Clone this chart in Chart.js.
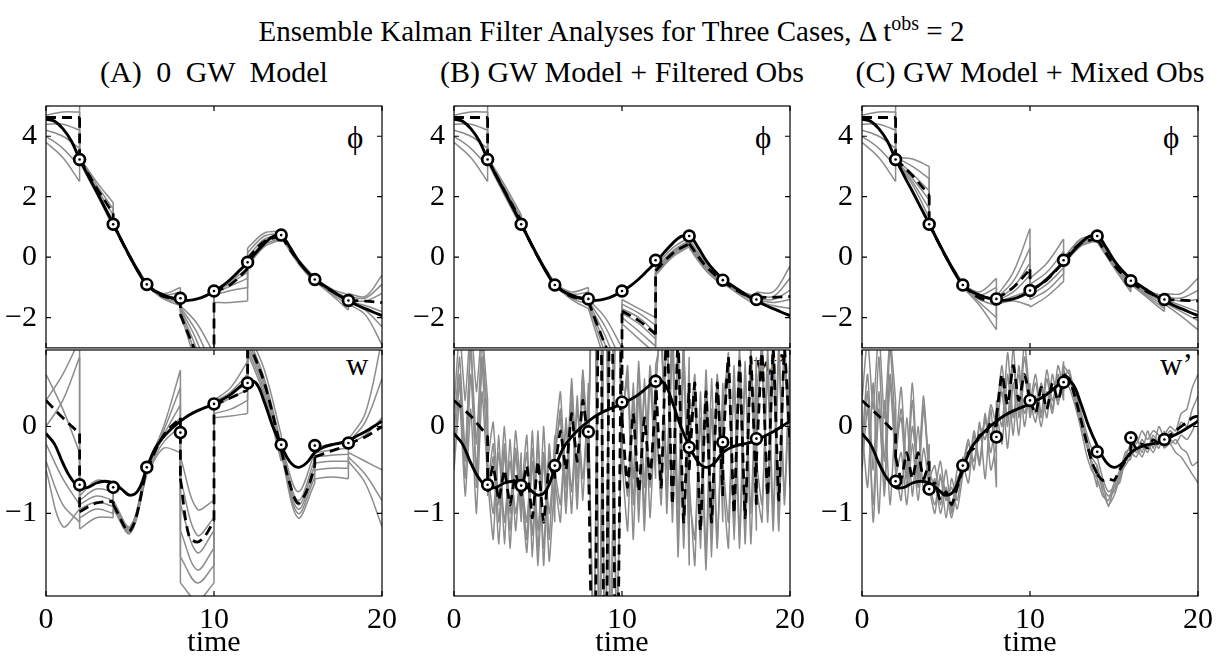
<!DOCTYPE html>
<html>
<head>
<meta charset="utf-8">
<script src="https://cdn.jsdelivr.net/npm/chart.js@4.4.1/dist/chart.umd.min.js"></script>
<style>
body { margin: 0; background: #fff; }
#page { position: relative; width: 1223px; height: 661px; overflow: hidden; font-family: 'Liberation Serif', 'Times New Roman', serif; color: #000; }
.txt { position: absolute; white-space: nowrap; line-height: 1; }
.sub { width: 420px; text-align: center; font-size: 30px; top: 57px; }
.lab { font-size: 31px; }
canvas { position: absolute; }
</style>
</head>
<body>
<div id="page">
  <div class="txt" style="left:0;width:1223px;text-align:center;top:13px;font-size:29px">Ensemble Kalman Filter Analyses for Three Cases, &Delta; t<sup style="font-size:20px">obs</sup> = 2</div>
  <div class="txt sub" style="left:4px;word-spacing:7px">(A) 0 GW Model</div>
  <div class="txt sub" style="left:412px">(B) GW Model + Filtered Obs</div>
  <div class="txt sub" style="left:820px">(C) GW Model + Mixed Obs</div>

  <div class="txt lab" style="left:347px;top:122px">&#981;</div>
  <div class="txt lab" style="left:755px;top:122px">&#981;</div>
  <div class="txt lab" style="left:1163px;top:122px">&#981;</div>
  <div class="txt lab" style="left:346px;top:349px">w</div>
  <div class="txt lab" style="left:754px;top:349px">w&#8217;</div>
  <div class="txt lab" style="left:1160px;top:349px">w&#8217;</div>

  <canvas id="topA" width="400" height="260" style="left:0;top:96px"></canvas>
  <canvas id="botA" width="400" height="321" style="left:0;top:340px"></canvas>
  <canvas id="topB" width="400" height="260" style="left:408px;top:96px"></canvas>
  <canvas id="botB" width="400" height="321" style="left:408px;top:340px"></canvas>
  <canvas id="topC" width="400" height="260" style="left:816px;top:96px"></canvas>
  <canvas id="botC" width="400" height="321" style="left:816px;top:340px"></canvas>
</div>
<script>
// axes
const xTicks = [0, 10, 20];
const phiTicks = [-2, 0, 2, 4];
const wTicks = [-1, 0];
const phiRange = [-3, 5];
const wRange = [-1.95, 0.88];

// observation times and values
const obsT = [2, 4, 6, 8, 10, 12, 14, 16, 18];
const obsPhiA = [3.23, 1.09, -0.90, -1.36, -1.12, -0.17, 0.73, -0.74, -1.43];
const obsPhiB = [3.23, 1.09, -0.92, -1.38, -1.12, -0.10, 0.70, -0.76, -1.40];
const obsPhiC = [3.23, 1.09, -0.92, -1.38, -1.10, -0.10, 0.70, -0.78, -1.40];
const obsWA = [-0.67, -0.70, -0.47, -0.07, 0.26, 0.50, -0.21, -0.22, -0.19];
const obsWB = [-0.67, -0.68, -0.45, -0.06, 0.28, 0.52, -0.24, -0.18, -0.14];
const obsWC = [-0.63, -0.72, -0.45, -0.12, 0.30, 0.51, -0.29, -0.13, -0.15];

// truth, every 0.5 time units from 0 to 20
const truthStep = 0.5;
const truthPhi = [4.56, 4.50, 4.25, 3.85, 3.25, 2.70, 2.18, 1.64, 1.10, 0.55, 0.02, -0.50, -0.92, -1.13, -1.25, -1.35,
  -1.42, -1.43, -1.38, -1.28, -1.13, -0.95, -0.72, -0.45, -0.17, 0.15, 0.45, 0.68, 0.72, 0.35, -0.10, -0.45,
  -0.72, -0.92, -1.10, -1.28, -1.43, -1.58, -1.70, -1.82, -1.93];
const truthW = [-0.08, -0.20, -0.42, -0.60, -0.70, -0.70, -0.65, -0.63, -0.65, -0.72, -0.79, -0.73, -0.48, -0.25,
  -0.12, -0.02, 0.06, 0.13, 0.18, 0.22, 0.26, 0.31, 0.37, 0.45, 0.52, 0.50, 0.28, 0.00, -0.22, -0.40, -0.47,
  -0.42, -0.30, -0.24, -0.21, -0.19, -0.16, -0.11, -0.06, 0.00, 0.06];

// ensemble mean and members: one value list per 2-unit window between observations
const obsStep = 2;
const phiMeanA = [[4.62,4.62,4.62],[3.25,2.3,1.45],[1.1,0.0,-0.93],[-0.92,-1.3,-1.35],[-1.9,-3.3,-5],
  [-1.15,-0.9,-0.38],[-0.05,0.52,0.7],[0.7,-0.12,-0.75],[-0.76,-1.12,-1.45],[-1.42,-1.45,-1.5]];
const phiEnsA = [
  [[5.0,5.1,5.3],[3.3,2.5,1.8],[1.15,0.05,-0.85],[-0.9,-1.2,-1.0],[-1.6,-2.2,-3.2],[-1.15,-0.75,-0.2],[0.3,0.8,0.85],[0.72,-0.1,-0.7],[-0.72,-1.05,-1.25],[-1.2,-1.3,-0.6]],
  [[4.7,4.8,4.8],[3.3,2.4,1.6],[1.1,0.0,-0.95],[-0.9,-1.25,-1.15],[-1.65,-2.5,-3.8],[-1.15,-0.8,-0.35],[0.15,0.7,0.78],[0.7,-0.15,-0.75],[-0.74,-1.1,-1.35],[-1.3,-1.35,-0.9]],
  [[4.4,4.4,4.2],[3.25,2.3,1.4],[1.05,-0.05,-1.0],[-0.92,-1.3,-1.3],[-1.7,-2.8,-4.5],[-1.2,-0.85,-0.5],[0.0,0.6,0.72],[0.68,-0.15,-0.8],[-0.75,-1.12,-1.45],[-1.4,-1.45,-1.2]],
  [[4.2,4.0,3.6],[3.2,2.2,1.2],[1.1,0.0,-0.9],[-0.92,-1.33,-1.4],[-1.75,-3.1,-5],[-1.2,-0.95,-0.7],[-0.1,0.5,0.68],[0.7,-0.1,-0.72],[-0.76,-1.15,-1.5],[-1.45,-1.6,-1.8]],
  [[4.0,3.6,3.0],[3.2,2.15,1.1],[1.12,0.02,-0.88],[-0.95,-1.35,-1.5],[-1.8,-3.4,-5.5],[-1.25,-1.1,-1.0],[-0.2,0.42,0.62],[0.74,-0.05,-0.68],[-0.78,-1.2,-1.6],[-1.5,-1.75,-2.3]],
  [[3.8,3.3,2.5],[3.15,2.1,1.0],[1.08,-0.02,-0.98],[-0.95,-1.38,-1.6],[-1.85,-3.7,-6],[-1.5,-1.5,-1.45],[-0.3,0.35,0.58],[0.66,-0.2,-0.85],[-0.8,-1.25,-1.75],[-1.55,-1.9,-2.9]]
];
const wMeanA = [[0.3,0.1,-0.08],[-0.98,-0.88,-0.86],[-0.9,-1.2,-0.48],[-0.5,-0.1,0.1],[-0.6,-1.25,-1.33,-1.25,-1.08],
  [0.25,0.33,0.42],[1.0,0.5,-0.27],[-0.27,-0.65,-0.88,-0.75,-0.45],[-0.35,-0.28,-0.22],[-0.2,-0.12,0.0]];
const wEnsA = [
  [[0.6,0.2,-0.3],[-0.8,-0.62,-0.65],[-0.85,-1.15,-0.45],[-0.45,0.0,0.65],[-0.35,-0.95,-0.85],[0.3,0.45,0.75],[1.1,0.65,-0.1],[-0.2,-0.75,-0.3],[-0.25,-0.2,-0.18],[-0.15,0.15,1.0]],
  [[0.3,0.6,1.0],[-0.85,-0.72,-0.75],[-0.88,-1.18,-0.5],[-0.47,-0.05,0.45],[-0.6,-1.25,-1.05],[0.28,0.4,0.6],[1.05,0.55,-0.2],[-0.22,-0.85,-0.38],[-0.3,-0.27,-0.25],[-0.18,0.05,0.55]],
  [[0.0,0.3,0.8],[-0.9,-0.8,-0.85],[-0.9,-1.2,-0.48],[-0.5,-0.1,0.25],[-0.9,-1.45,-1.2],[0.26,0.37,0.5],[1.0,0.5,-0.25],[-0.25,-0.9,-0.45],[-0.35,-0.33,-0.32],[-0.2,-0.1,0.1]],
  [[-0.2,-0.6,-0.9],[-0.95,-0.87,-0.92],[-0.92,-1.22,-0.52],[-0.5,-0.12,0.1],[-1.2,-1.65,-1.4],[0.22,0.33,0.42],[0.95,0.45,-0.3],[-0.28,-0.95,-0.52],[-0.42,-0.4,-0.4],[-0.3,-0.4,-0.5]],
  [[-0.4,-0.9,-1.1],[-1.05,-0.95,-1.0],[-0.95,-1.23,-0.55],[-0.52,-0.18,0.0],[-1.5,-1.8,-1.6],[0.15,0.2,0.3],[0.9,0.4,-0.35],[-0.3,-1.0,-0.58],[-0.5,-0.48,-0.48],[-0.35,-0.55,-0.85]],
  [[-0.5,-1.15,-0.95],[-1.18,-1.05,-1.05],[-0.87,-1.16,-0.42],[-0.55,-0.25,-0.3],[-1.8,-2.0,-1.8],[0.1,0.12,0.15],[0.85,0.35,-0.4],[-0.32,-1.05,-0.65],[-0.6,-0.58,-0.6],[-0.4,-0.65,-1.15]]
];

const phiMeanB = [[4.62,4.62,4.62],[3.25,2.2,1.2],[1.1,0.0,-0.93],[-0.92,-1.3,-1.4],[-1.45,-2.2,-2.9,-3.6,-4.3],
  [-1.78,-2.1,-2.55],[-0.45,0.12,0.45],[0.45,-0.3,-0.8],[-0.8,-1.15,-1.4],[-1.33,-1.33,-1.3]];
const phiEnsB = [
  [[5.0,5.1,5.3],[3.3,2.4,1.4],[1.15,0.05,-0.85],[-0.9,-1.15,-1.0],[-1.4,-2.0,-3.0],[-1.4,-1.7,-2.0],[-0.3,0.3,0.65],[0.6,-0.2,-0.7],[-0.72,-1.1,-1.3],[-1.15,-1.15,-0.3]],
  [[4.7,4.8,4.8],[3.3,2.3,1.3],[1.1,0.0,-0.95],[-0.9,-1.22,-1.15],[-1.45,-2.3,-3.5],[-1.55,-1.85,-2.25],[-0.4,0.2,0.55],[0.5,-0.25,-0.75],[-0.75,-1.12,-1.35],[-1.25,-1.3,-0.7]],
  [[4.4,4.4,4.2],[3.25,2.25,1.2],[1.05,-0.05,-1.0],[-0.92,-1.28,-1.3],[-1.5,-2.6,-4.0],[-1.7,-2.0,-2.5],[-0.45,0.15,0.5],[0.45,-0.3,-0.8],[-0.78,-1.15,-1.4],[-1.35,-1.4,-1.1]],
  [[4.2,4.0,3.6],[3.2,2.15,1.1],[1.1,0.0,-0.9],[-0.92,-1.33,-1.42],[-1.55,-2.9,-4.5],[-1.85,-2.2,-2.7],[-0.5,0.1,0.45],[0.4,-0.35,-0.85],[-0.8,-1.18,-1.45],[-1.4,-1.5,-1.4]],
  [[4.0,3.6,3.0],[3.2,2.1,1.05],[1.12,0.02,-0.88],[-0.95,-1.36,-1.55],[-1.6,-3.2,-5.0],[-2.0,-2.45,-2.95],[-0.55,0.05,0.4],[0.35,-0.4,-0.9],[-0.83,-1.2,-1.5],[-1.45,-1.6,-1.7]],
  [[3.8,3.3,2.5],[3.15,2.05,1.0],[1.08,-0.02,-0.98],[-0.95,-1.4,-1.7],[-1.7,-3.5,-5.5],[-2.2,-2.7,-3.2],[-0.6,0.0,0.35],[0.3,-0.45,-0.95],[-0.86,-1.25,-1.6],[-1.5,-1.7,-1.95]]
];
const wMeanB = [[0.3,0.12,-0.11],[-0.75,-0.45,-0.85,-0.5,-0.9,-0.55,-0.8],[-0.8,-0.45,-1.05,-0.4,-1.1,-0.45,-0.6],
  [-0.5,-0.05,-0.5,0.15,-0.4,0.3,-0.2],[-0.3,-4,3,-4,3,-4,2],[0.1,-0.7,0.15,-0.75,0.1,-0.6,0.3],
  [0.6,-0.7,1.2,-0.9,1.0,-1.1,0.5],[-0.5,0.5,-1.2,0.4,-1.1,0.5,-0.8],[-0.3,0.8,-1.0,0.75,-1.05,0.8,-0.9],
  [-0.4,0.85,-0.8,0.9,-0.85,0.9,-0.2]];
const wEnsB = [
  [[0.2,1.1,0.3,1.2,0.4,1.1,0.3],[-0.4,0.05,-0.9,0.0,-1.0,-0.05,-0.8],[-0.5,-1.3,-0.05,-1.45,0.0,-1.3,-0.1],[-0.4,0.2,-0.9,0.45,-0.8,0.65,-0.5],[-0.2,2.5,-3,3,-3,2.5,-0.5],
   [0.0,0.7,-0.9,0.65,-1.0,0.6,-0.4],[0.5,1.2,-0.8,1.1,-1.2,0.9,-1.0],[-0.3,0.6,-1.4,0.5,-1.5,0.55,-1.1],[-0.2,0.85,-1.3,0.8,-1.2,0.9,-0.9],[-0.2,1.0,-1.0,0.95,-1.1,1.0,-0.5]],
  [[-0.1,0.8,-0.3,0.9,-0.2,1.0,-0.1],[-0.6,-1.3,-0.1,-1.35,-0.15,-1.2,-0.3],[-0.8,-0.1,-1.5,-0.05,-1.6,-0.2,-1.1],[-0.6,-1.1,0.1,-1.0,0.35,-0.85,0.5],[0.3,-3,3,-3.5,3,-2.5,0.2],
   [-0.4,-1.2,0.5,-1.1,0.55,-1.05,0.3],[0.2,-0.9,1.3,-1.1,1.0,-1.4,0.8],[-0.6,-1.6,0.4,-1.45,0.55,-1.3,0.3],[-0.6,-1.4,0.7,-1.25,0.75,-1.35,0.5],[-0.7,-1.1,0.9,-1.0,1.0,-0.9,0.6]],
  [[-0.3,0.5,-0.6,0.6,-0.5,0.7,-0.4],[-0.7,-0.2,-1.1,-0.3,-1.2,-0.25,-1.0],[-0.6,-1.1,-0.25,-1.2,-0.3,-1.0,-0.35],[-0.2,0.4,-0.7,0.55,-0.6,0.6,-0.3],[-0.1,2.8,-3.2,3.2,-3.4,2.8,-0.2],
   [0.2,0.5,-0.6,0.75,-0.7,0.7,-0.2],[0.7,1.0,-0.5,1.2,-0.9,1.0,-1.6],[0.0,0.3,-1.2,0.65,-1.0,0.4,-0.8],[0.1,0.6,-1.0,0.9,-1.1,0.7,-0.7],[0.2,0.7,-0.8,1.1,-0.9,0.85,-0.2]],
  [[-0.5,0.3,-0.8,0.2,-1.0,0.4,-0.6],[-0.5,-1.0,-0.3,-1.1,-0.4,-1.0,-0.5],[-0.9,-0.3,-1.25,-0.2,-1.4,-0.3,-0.9],[-0.5,-0.9,0.0,-0.75,0.2,-0.6,0.3],[0.1,-2.6,2.9,-3.1,3.1,-2.7,0.4],
   [-0.2,-0.8,0.3,-0.9,0.4,-0.7,0.5],[0.0,-0.6,1.1,-0.8,0.9,-1.2,0.6],[-0.8,-1.3,0.1,-1.65,0.2,-1.4,0.5],[-0.4,-1.1,0.5,-1.4,0.6,-1.0,0.8],[-0.4,-0.9,0.6,-1.2,0.8,-0.8,0.9]],
  [[0.0,0.6,-0.4,1.0,-0.7,0.8,0.1],[-0.8,-0.35,-1.35,-0.2,-1.4,-0.3,-1.1],[-0.7,-1.45,-0.4,-1.6,-0.35,-1.55,-0.6],[-0.3,0.1,-1.0,0.3,-0.95,0.45,-0.7],[-0.4,3.0,-2.8,3.4,-3.2,3.0,-0.3],
   [0.1,0.6,-1.3,0.4,-1.2,0.55,-0.6],[0.4,1.3,-1.0,0.95,-1.5,0.7,-1.3],[-0.2,0.5,-1.0,0.2,-1.3,0.6,-0.6],[0.3,0.75,-1.2,0.5,-1.35,0.8,-1.2],[0.4,0.9,-1.1,0.7,-1.2,0.95,-0.7]]
];

const phiMeanC = [[4.62,4.62,4.62],[3.25,2.7,2.05],[1.1,0.0,-0.93],[-0.94,-1.35,-1.45],[-1.38,-1.0,-0.4],
  [-1.1,-0.75,-0.15],[-0.1,0.45,0.62],[0.6,-0.25,-0.85],[-0.85,-1.15,-1.4],[-1.4,-1.42,-1.45]];
const phiEnsC = [
  [[5.0,5.1,5.3],[3.3,3.25,3.0],[1.15,0.05,-0.85],[-0.9,-1.15,-0.7],[-1.3,-0.5,0.95],[-0.7,-0.2,0.6],[0.0,0.55,0.7],[0.7,-0.15,-0.8],[-0.75,-1.1,-1.3],[-1.2,-1.2,-0.7]],
  [[4.7,4.8,4.8],[3.3,3.0,2.6],[1.1,0.0,-0.95],[-0.92,-1.25,-1.0],[-1.35,-0.8,0.3],[-0.9,-0.5,0.2],[-0.1,0.5,0.68],[0.65,-0.2,-0.9],[-0.8,-1.15,-1.4],[-1.3,-1.35,-1.1]],
  [[4.4,4.4,4.2],[3.25,2.75,2.2],[1.05,-0.05,-1.0],[-0.93,-1.32,-1.3],[-1.4,-1.0,-0.2],[-1.1,-0.75,-0.1],[-0.15,0.45,0.65],[0.6,-0.25,-0.95],[-0.82,-1.2,-1.5],[-1.35,-1.45,-1.4]],
  [[4.2,4.0,3.6],[3.2,2.6,1.9],[1.1,0.0,-0.9],[-0.95,-1.4,-1.6],[-1.45,-1.15,-0.6],[-1.25,-0.9,-0.35],[-0.2,0.4,0.6],[0.55,-0.3,-1.05],[-0.85,-1.25,-1.6],[-1.4,-1.6,-1.8]],
  [[4.0,3.6,3.0],[3.2,2.5,1.6],[1.12,0.02,-0.88],[-0.97,-1.5,-2.0],[-1.5,-1.3,-1.1],[-1.4,-1.1,-0.55],[-0.25,0.35,0.55],[0.5,-0.35,-1.15],[-0.88,-1.3,-1.7],[-1.5,-1.8,-2.1]],
  [[3.8,3.3,2.5],[3.15,2.4,1.3],[1.08,-0.02,-0.98],[-1.0,-1.6,-2.4],[-1.55,-1.45,-1.6],[-1.65,-1.3,-0.8],[-0.05,0.6,0.72],[0.72,-0.1,-0.72],[-0.9,-1.35,-1.8],[-1.55,-1.95,-2.4]]
];
const wMeanC = [[0.3,0.12,-0.08],[-0.35,-0.6,-0.3,-0.6,-0.3,-0.6,-0.4],[-0.72,-0.65,-0.85,-0.75,-0.9,-0.7,-0.5],
  [-0.5,-0.3,-0.25,-0.1,-0.1,0.05,0.0],[0.1,0.6,0.25,0.7,0.3,0.6,0.3],[0.3,0.15,0.45,0.2,0.5,0.3,0.55],
  [0.6,0.55,0.35,0.1,-0.15,-0.4,-0.55],[-0.55,-0.62,-0.6,-0.62,-0.5,-0.4,-0.3],[-0.15,-0.25,-0.2,-0.25,-0.15,-0.2,-0.1],
  [-0.15,-0.1,-0.05,0.0,0.05,0.1,0.12]];
const wEnsC = [
  [[0.3,1.0,0.2,1.1,0.1,1.0,0.3],[-0.3,0.45,-0.6,0.3,-0.7,0.2,-0.5],[-0.6,-0.45,-0.9,-0.5,-1.0,-0.6,-0.5],[-0.5,-0.2,-0.4,0.0,-0.15,0.25,0.0],[0.1,0.7,0.0,0.9,0.1,0.8,0.2],
   [0.2,0.5,0.1,0.55,0.2,0.7,0.4],[0.7,0.6,0.4,0.2,-0.05,-0.25,-0.35],[-0.35,-0.6,-0.75,-0.7,-0.5,-0.35,-0.2],[-0.2,-0.3,-0.15,-0.25,-0.1,-0.2,-0.1],[-0.1,0.0,-0.05,0.15,0.2,0.45,0.6]],
  [[-0.2,0.6,-0.5,0.8,-0.4,0.9,-0.1],[-0.5,-0.85,0.1,-0.8,0.0,-0.75,-0.2],[-0.7,-1.0,-0.55,-1.05,-0.6,-0.85,-0.4],[-0.4,-0.65,-0.1,-0.45,0.1,-0.3,0.2],[0.2,-0.2,0.6,-0.1,0.7,0.0,0.5],
   [0.3,0.05,0.45,0.1,0.6,0.25,0.65],[0.6,0.55,0.3,0.05,-0.2,-0.4,-0.55],[-0.5,-0.75,-0.9,-0.8,-0.6,-0.4,-0.3],[-0.35,-0.25,-0.35,-0.2,-0.3,-0.15,-0.25],[-0.15,-0.05,-0.1,0.05,0.0,0.2,0.35]],
  [[-0.5,0.2,-0.9,0.4,-0.8,0.5,-0.5],[-0.4,0.2,-0.5,0.5,-0.6,0.25,-0.65],[-0.5,-0.7,-0.4,-0.85,-0.7,-0.95,-0.55],[-0.45,-0.15,-0.5,0.05,-0.6,0.2,-0.7],[-0.1,0.5,0.1,0.7,0.2,0.95,0.3],
   [0.1,0.35,0.0,0.4,0.15,0.6,0.3],[0.55,0.65,0.35,0.15,-0.15,-0.45,-0.7],[-0.6,-0.8,-0.85,-0.65,-0.55,-0.45,-0.35],[-0.25,-0.1,-0.3,-0.05,-0.25,0.0,-0.15],[-0.2,-0.15,-0.2,-0.1,-0.15,-0.05,0.1]],
  [[0.0,-0.7,0.5,-1.0,0.3,-0.9,0.2],[-0.6,-0.3,-0.9,-0.2,-0.85,-0.25,-0.7],[-0.8,-0.6,-1.0,-0.7,-0.95,-0.5,-0.45],[-0.55,-0.3,-0.2,-0.15,0.05,-0.1,0.15],[0.3,0.0,0.85,0.1,0.6,0.15,0.4],
   [0.4,0.15,0.5,0.2,0.45,0.3,0.75],[0.5,0.45,0.25,0.0,-0.3,-0.5,-0.6],[-0.45,-0.7,-0.8,-0.75,-0.55,-0.3,-0.25],[-0.3,-0.35,-0.2,-0.3,-0.15,-0.25,-0.05],[-0.15,-0.2,-0.15,-0.25,-0.3,-0.45,-0.4]],
  [[-0.3,0.4,-1.1,0.2,-0.7,0.6,-0.3],[-0.2,0.1,-0.7,0.0,-0.5,0.35,-0.6],[-0.65,-0.9,-0.6,-0.75,-1.05,-0.7,-0.35],[-0.35,-0.5,-0.05,-0.4,0.15,-0.5,-0.2],[0.0,0.4,-0.25,0.5,-0.1,0.6,0.1],
   [0.25,0.6,0.15,0.65,0.3,0.5,0.55],[0.65,0.5,0.45,0.1,-0.1,-0.35,-0.45],[-0.55,-0.65,-0.92,-0.7,-0.65,-0.4,-0.38],[-0.15,-0.2,-0.05,-0.15,-0.05,-0.1,-0.2],[-0.25,-0.2,-0.3,-0.35,-0.45,-0.55,-0.65]]
];

// ---------- helpers ----------
const serif = 'Liberation Serif';
const memberGrey = '#8c8c8c';

// windows are joined by vertical jumps at the observation times
function windowPoints(segs) {
  const pts = [];
  segs.forEach((vals, k) => {
    const t0 = k * obsStep;
    if (k > 0) {
      const prev = segs[k - 1];
      pts.push({x: t0, y: prev[prev.length - 1]}, {x: t0, y: vals[0]}, {x: t0, y: null});
    }
    vals.forEach((v, i) => pts.push({x: t0 + obsStep * i / (vals.length - 1), y: v}));
    pts.push({x: t0 + obsStep, y: null});
  });
  return pts;
}
const truthPoints = vals => vals.map((v, i) => ({x: i * truthStep, y: v}));
const obsPoints = vals => obsT.map((t, i) => ({x: t, y: vals[i]}));
const fmt = v => (v < 0 ? '\u2212' + Math.abs(v) : String(v));

// box and inward tick marks like the original figure
const framePlugin = {
  id: 'frame',
  afterDatasetsDraw(chart) {
    const {ctx, chartArea: a, scales} = chart;
    ctx.save();
    ctx.strokeStyle = '#000';
    ctx.lineWidth = 1.2;
    ctx.strokeRect(a.left, a.top, a.right - a.left, a.bottom - a.top);
    ctx.beginPath();
    scales.x.ticks.forEach(t => {
      const px = scales.x.getPixelForValue(t.value);
      ctx.moveTo(px, a.bottom); ctx.lineTo(px, a.bottom - 5);
      ctx.moveTo(px, a.top); ctx.lineTo(px, a.top + 5);
    });
    scales.y.ticks.forEach(t => {
      const py = scales.y.getPixelForValue(t.value);
      ctx.moveTo(a.left, py); ctx.lineTo(a.left + 5, py);
      ctx.moveTo(a.right, py); ctx.lineTo(a.right - 5, py);
    });
    ctx.stroke();
    ctx.restore();
  }
};

function makePanel(id, p) {
  const datasets = [
    {data: obsPoints(p.obs), showLine: false, pointRadius: 1.3, pointBackgroundColor: '#000', pointBorderWidth: 0, order: 0},
    {data: obsPoints(p.obs), showLine: false, pointRadius: 5.4, pointBorderWidth: 2.7, pointBorderColor: '#000', pointBackgroundColor: '#fff', order: 1},
    {data: truthPoints(p.truth), borderColor: '#000', borderWidth: 2.9, pointRadius: 0, tension: 0.4, clip: 0, order: 2},
    {data: windowPoints(p.mean), borderColor: '#000', borderWidth: 2.8, borderDash: [10, 6], pointRadius: 0, tension: p.tension, clip: 0, order: 3}
  ];
  p.members.forEach(m => datasets.push({data: windowPoints(m), borderColor: memberGrey, borderWidth: 1.5, pointRadius: 0, tension: p.tension, clip: 0, order: 4}));

  new Chart(document.getElementById(id), {
    type: 'line',
    data: {datasets},
    options: {
      responsive: false,
      animation: false,
      devicePixelRatio: 1,
      events: [],
      layout: {padding: {top: 10, right: 18, bottom: p.showX ? 0 : 6, left: 0}},
      plugins: {legend: {display: false}, tooltip: {enabled: false}},
      scales: {
        x: {
          type: 'linear', min: 0, max: 20,
          afterBuildTicks: s => { s.ticks = xTicks.map(v => ({value: v})); },
          afterFit: s => { s.height = p.showX ? 65 : 0; s.paddingLeft = 0; s.paddingRight = 0; },
          grid: {display: false, drawTicks: false},
          border: {display: false},
          ticks: {display: p.showX, color: '#000', font: {family: serif, size: 30}, padding: 6, maxRotation: 0, autoSkip: false},
          title: {display: p.showX, text: 'time', color: '#000', font: {family: serif, size: 30}, padding: {top: 0, bottom: 0}}
        },
        y: {
          min: p.range[0], max: p.range[1],
          afterBuildTicks: s => { s.ticks = p.ticks.map(v => ({value: v})); },
          afterFit: s => { s.width = 46; s.paddingTop = 0; s.paddingBottom = 0; },
          grid: {display: false, drawTicks: false},
          border: {display: false},
          ticks: {color: '#000', font: {family: serif, size: 30}, padding: 9, callback: fmt}
        }
      }
    },
    plugins: [framePlugin]
  });
}

makePanel('topA', {truth: truthPhi, mean: phiMeanA, members: phiEnsA, obs: obsPhiA, range: phiRange, ticks: phiTicks, showX: false, tension: 0.35});
makePanel('botA', {truth: truthW, mean: wMeanA, members: wEnsA, obs: obsWA, range: wRange, ticks: wTicks, showX: true, tension: 0.35});
makePanel('topB', {truth: truthPhi, mean: phiMeanB, members: phiEnsB, obs: obsPhiB, range: phiRange, ticks: phiTicks, showX: false, tension: 0.35});
makePanel('botB', {truth: truthW, mean: wMeanB, members: wEnsB, obs: obsWB, range: wRange, ticks: wTicks, showX: true, tension: 0.12});
makePanel('topC', {truth: truthPhi, mean: phiMeanC, members: phiEnsC, obs: obsPhiC, range: phiRange, ticks: phiTicks, showX: false, tension: 0.35});
makePanel('botC', {truth: truthW, mean: wMeanC, members: wEnsC, obs: obsWC, range: wRange, ticks: wTicks, showX: true, tension: 0.2});
</script>
</body>
</html>
